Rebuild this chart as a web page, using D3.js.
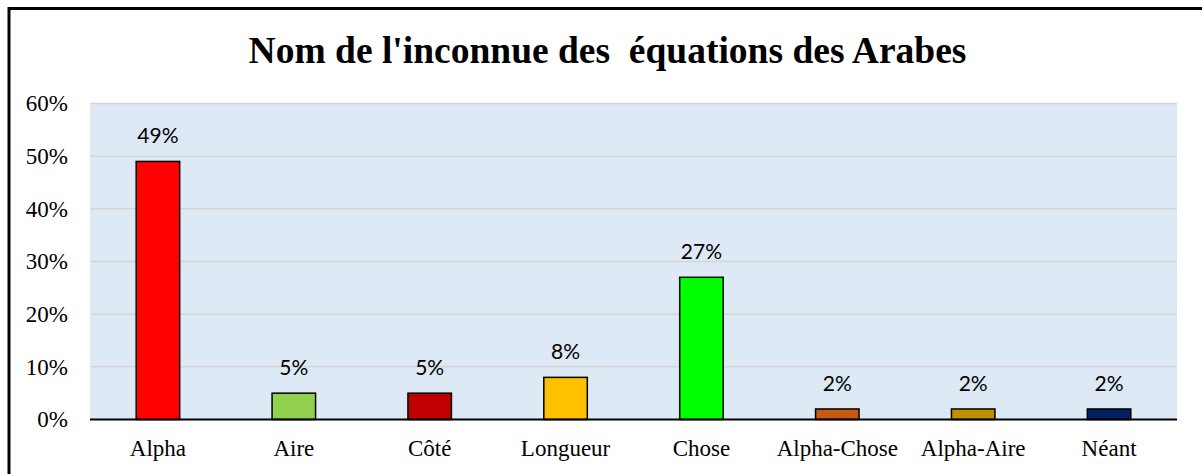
<!DOCTYPE html>
<html>
<head>
<meta charset="utf-8">
<script src="https://cdn.jsdelivr.net/npm/d3@7"></script>
<style>
  html, body { margin: 0; padding: 0; background: #ffffff; }
  svg { display: block; }
</style>
</head>
<body>
<div id="chart"></div>
<script>
// Share of each name used for the unknown in equations
const categories = ["Alpha", "Aire", "Côté", "Longueur", "Chose", "Alpha-Chose", "Alpha-Aire", "Néant"];
const values = [49, 5, 5, 8, 27, 2, 2, 2];
const barColors = ["#FF0000", "#92D050", "#C00000", "#FFC000", "#00FF00", "#C55A11", "#BF9000", "#002060"];
const yTicks = [0, 10, 20, 30, 40, 50, 60];
const titleText = "Nom de l'inconnue des  équations des Arabes";

const W = 1202, H = 474;
const plot = { left: 90, right: 1177, top: 103.5, bottom: 419.5 };

const svg = d3.select("#chart").append("svg")
  .attr("width", W).attr("height", H);

// Outer frame
svg.append("path")
  .attr("d", `M9,${H + 5} L9,8.5 L${W + 5},8.5`)
  .attr("fill", "none")
  .attr("stroke", "#000")
  .attr("stroke-width", 3);

// Title
svg.append("text")
  .attr("x", 607.5)
  .attr("y", 63)
  .attr("text-anchor", "middle")
  .style("font-family", "'Liberation Serif', 'Times New Roman', serif")
  .style("font-weight", "bold")
  .style("font-size", "37.5px")
  .style("white-space", "pre")
  .attr("xml:space", "preserve")
  .text(titleText);

const x = d3.scaleBand()
  .domain(categories)
  .range([plot.left, plot.right])
  .paddingInner(0.68)
  .paddingOuter(0.34);

const y = d3.scaleLinear()
  .domain([0, 60])
  .range([plot.bottom, plot.top]);

// Plot background
svg.append("rect")
  .attr("x", plot.left)
  .attr("y", plot.top)
  .attr("width", plot.right - plot.left)
  .attr("height", plot.bottom - plot.top)
  .attr("fill", "#DDE9F5");

// Gridlines
svg.append("g")
  .selectAll("line")
  .data(yTicks.filter(d => d > 0))
  .join("line")
  .attr("x1", plot.left)
  .attr("x2", plot.right)
  .attr("y1", d => y(d))
  .attr("y2", d => y(d))
  .attr("stroke", "#D5D5D5")
  .attr("stroke-width", 1.5);

// Y axis labels
const yAxis = d3.axisLeft(y)
  .tickValues(yTicks)
  .tickFormat(d => d + "%")
  .tickSize(0)
  .tickPadding(22);

svg.append("g")
  .attr("transform", `translate(${plot.left},0)`)
  .call(yAxis)
  .call(g => g.select(".domain").remove())
  .selectAll("text")
  .style("font-family", "'Liberation Serif', 'Times New Roman', serif")
  .style("font-size", "23px")
  .attr("fill", "#000");

// Bars
svg.append("g")
  .selectAll("rect")
  .data(values)
  .join("rect")
  .attr("x", (d, i) => x(categories[i]))
  .attr("y", d => y(d))
  .attr("width", x.bandwidth())
  .attr("height", d => y(0) - y(d))
  .attr("fill", (d, i) => barColors[i])
  .attr("stroke", "#000")
  .attr("stroke-width", 1.5);

// Value labels
svg.append("g")
  .selectAll("text")
  .data(values)
  .join("text")
  .attr("x", (d, i) => x(categories[i]) + x.bandwidth() / 2)
  .attr("y", d => y(d) - 18)
  .attr("text-anchor", "middle")
  .style("font-family", "Lato, 'Open Sans', sans-serif")
  .style("font-size", "21px")
  .attr("fill", "#000")
  .text(d => d + "%");

// X axis
const xAxis = d3.axisBottom(x).tickSize(0).tickPadding(20);
svg.append("g")
  .attr("transform", `translate(0,${plot.bottom})`)
  .call(xAxis)
  .call(g => g.select(".domain")
    .attr("d", `M${plot.left},0H${plot.right}`)
    .attr("stroke", "#000")
    .attr("stroke-width", 2))
  .selectAll("text")
  .style("font-family", "'Liberation Serif', 'Times New Roman', serif")
  .style("font-size", "23px")
  .attr("fill", "#000");
</script>
</body>
</html>
